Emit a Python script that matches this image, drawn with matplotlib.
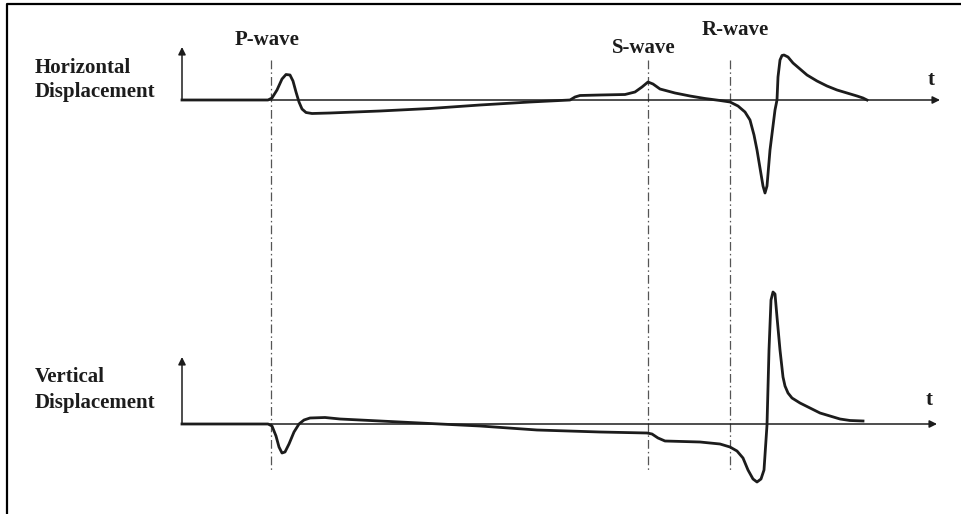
import numpy as np
from matplotlib import pyplot as plt
from matplotlib.lines import Line2D

# time axis (arbitrary units) and displacement amplitude for both records
t_horiz = [0.0, 8.6, 9.0, 9.5, 10.0, 10.4, 10.8, 11.1, 11.4, 11.7, 12.0, 12.4, 13.0,
           14.8, 19.8, 24.8, 29.8, 34.8, 38.8, 39.3, 39.8, 41.8, 44.3, 45.3, 46.0,
           46.6, 47.1, 47.8, 49.3, 50.8, 52.3, 53.8, 54.8, 55.6, 56.3, 56.8, 57.2,
           57.5, 57.8, 58.1, 58.3, 58.5, 58.8, 59.1, 59.3, 59.5, 59.6, 59.8, 60.0,
           60.2, 60.6, 61.1, 61.8, 62.5, 63.5, 64.5, 65.5, 66.5, 67.5, 68.1, 68.5]
u_horiz = [0.0, 0.0, 0.2, 1.0, 2.1, 2.55, 2.5, 1.9, 0.8, -0.2, -0.9, -1.25, -1.35,
           -1.3, -1.1, -0.85, -0.5, -0.2, 0.0, 0.3, 0.45, 0.5, 0.55, 0.8, 1.3,
           1.8, 1.6, 1.1, 0.7, 0.4, 0.15, -0.05, -0.2, -0.6, -1.2, -2.0, -3.5,
           -5.0, -6.8, -8.6, -9.3, -8.6, -5.0, -2.6, -1.0, 0.0, 2.3, 4.0, 4.45,
           4.5, 4.3, 3.7, 3.1, 2.5, 1.9, 1.4, 1.0, 0.7, 0.4, 0.2, 0.0]

t_vert = [0.0, 8.6, 9.0, 9.4, 9.7, 10.0, 10.3, 10.7, 11.2, 11.7, 12.2, 12.8, 14.3,
          15.8, 21.8, 29.8, 35.5, 41.8, 46.5, 47.0, 47.6, 48.3, 51.8, 53.8, 54.8,
          55.5, 56.1, 56.6, 57.1, 57.5, 57.9, 58.2, 58.3, 58.5, 58.7, 58.9, 59.1,
          59.3, 59.5, 59.8, 60.1, 60.3, 60.6, 61.0, 61.8, 62.8, 63.8, 64.8, 65.8,
          66.8, 68.1]
u_vert = [0.0, 0.0, -0.2, -1.2, -2.3, -2.9, -2.8, -2.0, -0.8, 0.0, 0.4, 0.6, 0.65,
          0.5, 0.2, -0.2, -0.6, -0.8, -0.9, -1.0, -1.4, -1.7, -1.8, -2.0, -2.3,
          -2.7, -3.4, -4.6, -5.5, -5.8, -5.5, -4.6, -3.1, -0.1, 7.4, 12.4, 13.2,
          13.0, 10.7, 7.4, 4.7, 3.8, 3.1, 2.6, 2.1, 1.6, 1.1, 0.8, 0.5, 0.35, 0.3]

# arrival times of the three phases
arrivals = [8.9, 46.6, 54.8]
arrival_names = ["P-wave", "S-wave", "R-wave"]

W, H = 961, 514
fig = plt.figure(figsize=(W / 100, H / 100), dpi=100)

serif = "Liberation Serif"
ink = "#1c1c1c"


def px(x, y):
    return x / W, 1 - y / H


def make_axes(base_px):
    ax = fig.add_axes([0, 0, 1, 1])
    ax.set_xlim(-18.2, (W - 182) / 10)
    ax.set_ylim((base_px - H) / 10, base_px / 10)
    ax.axis("off")
    ax.patch.set_alpha(0)
    return ax


ax_h = make_axes(100)
ax_v = make_axes(424)

arrow = dict(arrowstyle="-|>", lw=1.1, color=ink, mutation_scale=11,
             shrinkA=0, shrinkB=0)
for ax, x_tip, y_tip in [(ax_h, 75.8, 5.3), (ax_v, 75.5, 6.7)]:
    ax.annotate("", xy=(x_tip, 0), xytext=(0, 0), arrowprops=arrow)
    ax.annotate("", xy=(0, y_tip), xytext=(0, 0), arrowprops=arrow)

# phase arrival markers, shared by both records
for t_a in arrivals:
    ax_h.plot([t_a, t_a], [4.0, -37.2], color="#555555", lw=0.9,
              dashes=(7, 2.5, 1.2, 2.5))

ax_h.plot(t_horiz, u_horiz, color=ink, lw=2.0, solid_joinstyle="round")
ax_v.plot(t_vert, u_vert, color=ink, lw=2.0, solid_joinstyle="round")

txt = dict(family=serif, weight="bold", color=ink, fontsize=15)
for name, (x, y) in zip(arrival_names, [(267, 40), (644, 48), (735, 30)]):
    fig.text(*px(x, y), name, ha="center", va="center", **txt)

fig.text(*px(35, 80), "Horizontal\nDisplacement", ha="left", va="center",
         linespacing=1.3, **txt)
fig.text(*px(35, 390), "Vertical\nDisplacement", ha="left", va="center",
         linespacing=1.4, **txt)
fig.text(*px(931, 80), "t", ha="center", va="center", **txt)
fig.text(*px(929, 400), "t", ha="center", va="center", **txt)

# frame on the top and left edges
fig.add_artist(Line2D([7 / W, 7 / W, 1], [0, 1 - 4 / H, 1 - 4 / H],
                      transform=fig.transFigure, color="black", lw=1.6))

plt.savefig("out.png", dpi=100)
